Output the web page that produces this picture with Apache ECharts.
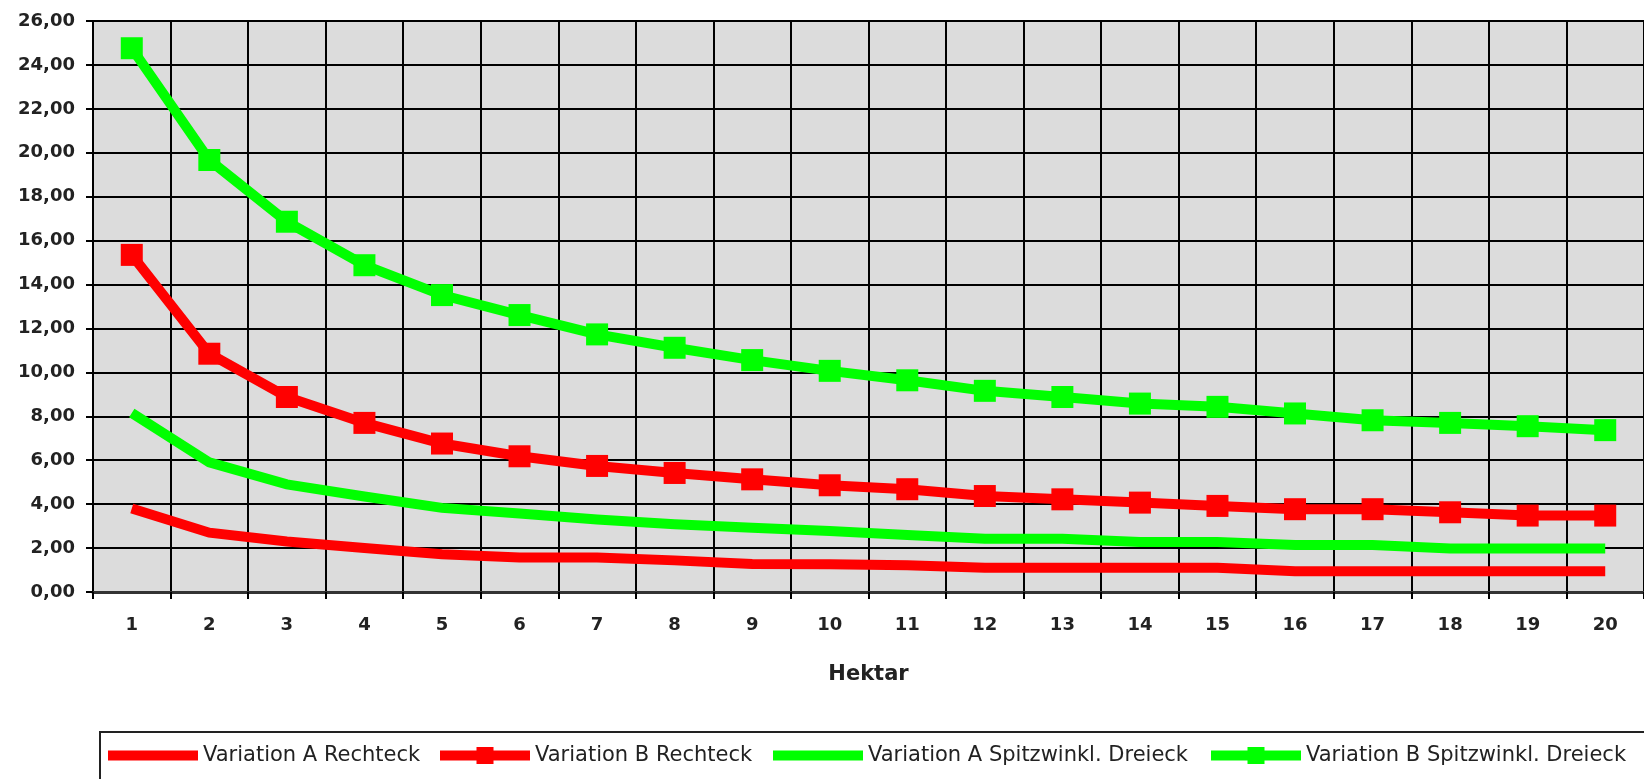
<!DOCTYPE html>
<html>
<head>
<meta charset="utf-8">
<script src="https://cdn.jsdelivr.net/npm/echarts@6/dist/echarts.min.js"></script>
<style>
  html, body { margin: 0; padding: 0; background: #ffffff; }
  #chart { width: 1644px; height: 779px; }
</style>
</head>
<body>
<div id="chart"></div>
<script>
// ---- Data ----
const categories = ['1','2','3','4','5','6','7','8','9','10','11','12','13','14','15','16','17','18','19','20'];
const yTickLabels = ['0,00','2,00','4,00','6,00','8,00','10,00','12,00','14,00','16,00','18,00','20,00','22,00','24,00','26,00'];
const seriesNames = ['Variation A Rechteck','Variation B Rechteck','Variation A Spitzwinkl. Dreieck','Variation B Spitzwinkl. Dreieck'];
const varARechteck = [3.80, 2.70, 2.30, 2.00, 1.72, 1.57, 1.57, 1.44, 1.28, 1.26, 1.22, 1.10, 1.10, 1.10, 1.10, 0.95, 0.95, 0.95, 0.95, 0.95];
const varBRechteck = [15.35, 10.85, 8.88, 7.70, 6.76, 6.18, 5.74, 5.42, 5.13, 4.86, 4.68, 4.37, 4.22, 4.07, 3.92, 3.77, 3.77, 3.63, 3.48, 3.48];
const varASpitz = [8.15, 5.90, 4.90, 4.35, 3.83, 3.57, 3.30, 3.08, 2.93, 2.78, 2.60, 2.43, 2.43, 2.28, 2.28, 2.14, 2.14, 1.98, 1.98, 1.98];
const varBSpitz = [24.76, 19.67, 16.86, 14.88, 13.52, 12.61, 11.73, 11.12, 10.56, 10.07, 9.64, 9.16, 8.88, 8.58, 8.43, 8.13, 7.82, 7.70, 7.55, 7.37];

const RED = '#ff0000';
const GREEN = '#00ff00';
const iconPlain = 'path://M0,0H90V10H0Z';
const iconMarker = 'path://M0,3.5H36.5V0H53.5V3.5H90V13.5H53.5V17H36.5V13.5H0Z';

const chart = echarts.init(document.getElementById('chart'));

function legendFor(name, left, icon) {
  return {
    left: left, top: 745, padding: 0,
    itemWidth: 90, itemHeight: 17, itemGap: 0,
    icon: icon,
    itemStyle: { borderWidth: 0 },
    textStyle: { fontFamily: 'DejaVu Sans', fontSize: 21, color: '#222' },
    selectedMode: false,
    data: [{ name: name, icon: icon }]
  };
}

function lineSeries(name, data, color, marker) {
  return {
    name: name, type: 'line', data: data,
    symbol: marker ? 'rect' : 'none',
    symbolSize: 22,
    showSymbol: marker,
    lineStyle: { color: color, width: 10, join: 'miter' },
    itemStyle: { color: color, borderWidth: 0 },
    emphasis: { disabled: true },
    animation: false
  };
}

chart.setOption({
  backgroundColor: '#ffffff',
  animation: false,
  grid: { left: 93, top: 21, width: 1567, height: 571, show: true, backgroundColor: '#dcdcdc', borderWidth: 0 },
  graphic: [{
    type: 'rect', z: -1,
    shape: { x: 100, y: 732, width: 1600, height: 100 },
    style: { fill: 'none', stroke: '#222', lineWidth: 2 }
  }],
  legend: [
    legendFor(seriesNames[0], 108, iconPlain),
    legendFor(seriesNames[1], 440, iconMarker),
    legendFor(seriesNames[2], 773, iconPlain),
    legendFor(seriesNames[3], 1211, iconMarker)
  ],
  xAxis: {
    type: 'category', data: categories, boundaryGap: true,
    name: 'Hektar', nameLocation: 'middle', nameGap: 72,
    nameTextStyle: { fontFamily: 'DejaVu Sans', fontWeight: 'bold', fontSize: 21, color: '#222' },
    axisLine: { show: true, lineStyle: { color: '#333', width: 3 } },
    axisTick: { show: true, length: 7, lineStyle: { color: '#000', width: 2 } },
    axisLabel: { margin: 24, fontFamily: 'DejaVu Sans', fontWeight: 'bold', fontSize: 18, color: '#222' },
    splitLine: { show: true, interval: 0, lineStyle: { color: '#000', width: 2 } }
  },
  yAxis: {
    type: 'value', min: 0, max: 26, interval: 2,
    axisLine: { show: true, lineStyle: { color: '#000', width: 2 } },
    axisTick: { show: true, length: 7, lineStyle: { color: '#000', width: 2 } },
    axisLabel: {
      margin: 18, fontFamily: 'DejaVu Sans', fontWeight: 'bold', fontSize: 18, color: '#222',
      formatter: function (v) { return yTickLabels[Math.round(v / 2)]; }
    },
    splitLine: { show: true, lineStyle: { color: '#000', width: 2 } }
  },
  series: [
    lineSeries(seriesNames[0], varARechteck, RED, false),
    lineSeries(seriesNames[1], varBRechteck, RED, true),
    lineSeries(seriesNames[2], varASpitz, GREEN, false),
    lineSeries(seriesNames[3], varBSpitz, GREEN, true)
  ]
});
</script>
</body>
</html>
